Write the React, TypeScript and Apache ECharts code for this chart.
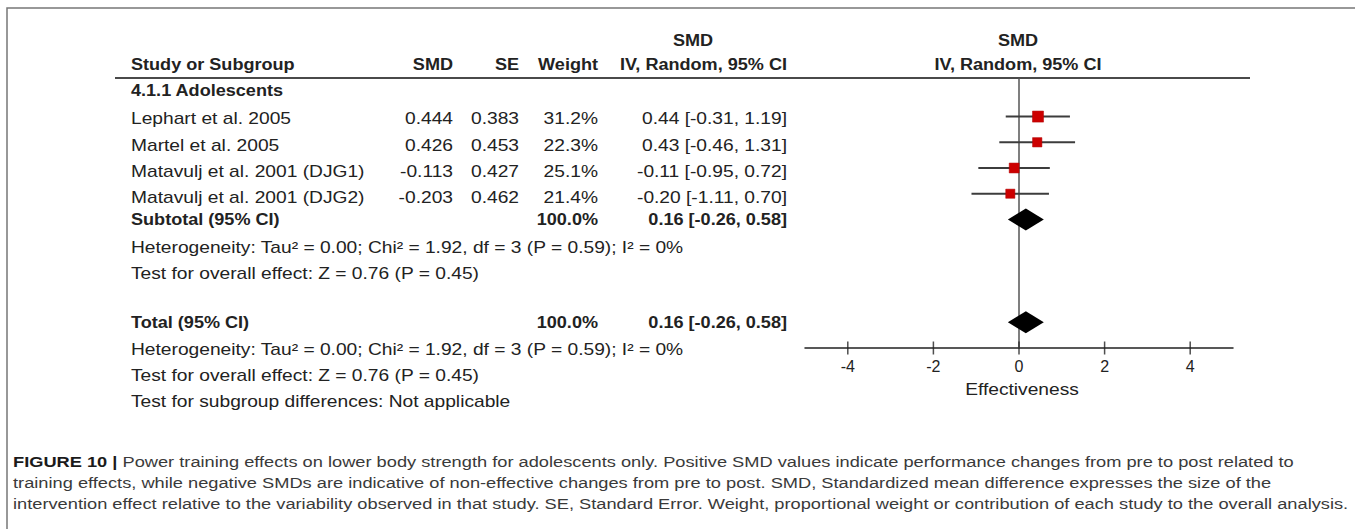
import React, { useEffect, useRef } from "react";
import * as echarts from "echarts";

// Study-level data
const studies = [
  "Lephart et al. 2005",
  "Martel et al. 2005",
  "Matavulj et al. 2001 (DJG1)",
  "Matavulj et al. 2001 (DJG2)",
];
const smd = [0.444, 0.426, -0.113, -0.203];
const se = [0.383, 0.453, 0.427, 0.462];
const weight = [31.2, 22.3, 25.1, 21.4];
const ciLow = [-0.31, -0.46, -0.95, -1.11];
const ciHigh = [1.19, 1.31, 0.72, 0.7];

// Pooled (random effects) estimate, used for both subtotal and total
const pooledEst = 0.16;
const pooledLow = -0.26;
const pooledHigh = 0.58;
const pooledWeight = 100.0;

// Row indices on the plot's vertical scale
const studyRows = [0, 1, 2, 3];
const subtotalRow = 4;
const totalRow = 8;

// Axis tick values
const xTicks = [-4, -2, 0, 2, 4];

const heterogeneityText =
  "Heterogeneity: Tau\u00b2 = 0.00; Chi\u00b2 = 1.92, df = 3 (P = 0.59); I\u00b2 = 0%";
const overallEffectText = "Test for overall effect: Z = 0.76 (P = 0.45)";
const subgroupText = "Test for subgroup differences: Not applicable";

const captionLines = [
  "{b|FIGURE 10 |} Power training effects on lower body strength for adolescents only. Positive SMD values indicate performance changes from pre to post related to",
  "training effects, while negative SMDs are indicative of non-effective changes from pre to post. SMD, Standardized mean difference expresses the size of the",
  "intervention effect relative to the variability observed in that study. SE, Standard Error. Weight, proportional weight or contribution of each study to the overall analysis.",
];

const FONT = '"Liberation Sans", Arial, Helvetica, sans-serif';
const INK = "#222";

function txt(
  text: string,
  x: number,
  y: number,
  align: "left" | "right" | "center",
  bold = false
) {
  return {
    type: "text",
    x,
    y,
    scaleX: bold ? 1.13 : 1.2,
    silent: true,
    style: {
      text,
      fill: INK,
      fontFamily: FONT,
      fontSize: 16,
      fontWeight: bold ? "bold" : "normal",
      align,
      verticalAlign: "middle",
    },
  };
}

export default function App() {
  const ref = useRef<HTMLDivElement>(null);

  useEffect(() => {
    if (!ref.current) return;
    const chart = echarts.init(ref.current, null, { renderer: "svg" });

    const fmt2 = (v: number) => v.toFixed(2);
    const ciLabel = (e: number, l: number, h: number) =>
      `${fmt2(e)} [${fmt2(l)}, ${fmt2(h)}]`;

    // Table columns (right edges)
    const colName = 131;
    const colSmd = 453;
    const colSe = 519;
    const colWeight = 598;
    const colCi = 787;
    const studyTextY = [119, 145.5, 172, 198];

    const table: any[] = [];
    // Header
    table.push(txt("SMD", 693, 41, "center", true));
    table.push(txt("SMD", 1018, 41, "center", true));
    table.push(txt("Study or Subgroup", colName, 65, "left", true));
    table.push(txt("SMD", colSmd, 65, "right", true));
    table.push(txt("SE", colSe, 65, "right", true));
    table.push(txt("Weight", colWeight, 65, "right", true));
    table.push(txt("IV, Random, 95% CI", colCi, 65, "right", true));
    table.push(txt("IV, Random, 95% CI", 1018, 65, "center", true));
    table.push(txt("4.1.1 Adolescents", colName, 91, "left", true));

    studies.forEach((s, i) => {
      const y = studyTextY[i];
      table.push(txt(s, colName, y, "left"));
      table.push(txt(smd[i].toFixed(3), colSmd, y, "right"));
      table.push(txt(se[i].toFixed(3), colSe, y, "right"));
      table.push(txt(weight[i].toFixed(1) + "%", colWeight, y, "right"));
      table.push(txt(ciLabel(smd[i], ciLow[i], ciHigh[i]), colCi, y, "right"));
    });

    table.push(txt("Subtotal (95% CI)", colName, 220, "left", true));
    table.push(txt(pooledWeight.toFixed(1) + "%", colWeight, 220, "right", true));
    table.push(txt(ciLabel(pooledEst, pooledLow, pooledHigh), colCi, 220, "right", true));
    table.push(txt(heterogeneityText, colName, 248, "left"));
    table.push(txt(overallEffectText, colName, 274, "left"));

    table.push(txt("Total (95% CI)", colName, 323, "left", true));
    table.push(txt(pooledWeight.toFixed(1) + "%", colWeight, 323, "right", true));
    table.push(txt(ciLabel(pooledEst, pooledLow, pooledHigh), colCi, 323, "right", true));
    table.push(txt(heterogeneityText, colName, 350, "left"));
    table.push(txt(overallEffectText, colName, 376, "left"));
    table.push(txt(subgroupText, colName, 402, "left"));

    table.push(txt("Effectiveness", 1022, 390, "center"));

    const captionY = [462, 483, 504];
    const caption = captionLines.map((line, i) => ({
      type: "text",
      x: 13,
      y: captionY[i],
      scaleX: 1.185,
      silent: true,
      style: {
        text: line,
        fill: "#3a3a3a",
        fontFamily: FONT,
        fontSize: 15.4,
        align: "left",
        verticalAlign: "middle",
        rich: {
          b: {
            fontWeight: "bold",
            fontFamily: FONT,
            fontSize: 15.4,
            fill: "#1a1a1a",
          },
        },
      },
    }));

    const option: any = {
      animation: false,
      backgroundColor: "#fff",
      grid: { left: 805, top: 78, width: 428, height: 270, containLabel: false },
      xAxis: {
        type: "value",
        min: -5,
        max: 5,
        axisLine: { show: true, onZero: false, lineStyle: { color: "#222", width: 1.5 } },
        axisTick: { show: false },
        splitLine: { show: false },
        axisLabel: {
          customValues: xTicks,
          margin: 10,
          color: INK,
          fontFamily: FONT,
          fontSize: 16,
        },
      },
      yAxis: {
        type: "value",
        inverse: true,
        min: -1.5,
        max: 9,
        show: false,
      },
      graphic: [
        {
          // figure frame (its right and bottom edges run off the page)
          type: "rect",
          silent: true,
          shape: { x: 7, y: 8, width: 1360, height: 600 },
          style: { fill: "none", stroke: "#777", lineWidth: 1.5 },
          z: 0,
        },
        {
          type: "line",
          silent: true,
          shape: { x1: 115, y1: 78, x2: 1250, y2: 78 },
          style: { stroke: "#4a4a4a", lineWidth: 2 },
        },
        ...table,
        ...caption,
      ],
      series: [
        {
          // axis tick marks crossing the axis line, plus the line of no effect
          type: "scatter",
          data: xTicks.map((v) => [v, 9]),
          symbol: "rect",
          symbolSize: [1.5, 13],
          itemStyle: { color: "#222" },
          clip: false,
          silent: true,
          z: 3,
          markLine: {
            silent: true,
            symbol: ["none", "none"],
            label: { show: false },
            lineStyle: { color: "#555", width: 1.5, type: "solid" },
            data: [{ xAxis: 0 }],
            z: 1,
          },
        },
        {
          type: "custom",
          z: 4,
          silent: true,
          clip: false,
          data: studies.map((_, i) => [smd[i], ciLow[i], ciHigh[i], studyRows[i], weight[i]]),
          renderItem: (params: any, api: any) => {
            const est = api.value(0);
            const lo = api.value(1);
            const hi = api.value(2);
            const row = api.value(3);
            const w = api.value(4);
            const p0 = api.coord([lo, row]);
            const p1 = api.coord([hi, row]);
            const c = api.coord([est, row]);
            const s = 1.98 * Math.sqrt(w);
            return {
              type: "group",
              children: [
                {
                  type: "line",
                  shape: { x1: p0[0], y1: p0[1], x2: p1[0], y2: p1[1] },
                  style: { stroke: "#3c3c3c", lineWidth: 2 },
                },
                {
                  type: "rect",
                  shape: { x: c[0] - s / 2, y: c[1] - s / 2, width: s, height: s },
                  style: { fill: "#cc0000", stroke: "#b00000", lineWidth: 0.5 },
                },
              ],
            };
          },
        },
        {
          type: "custom",
          z: 4,
          silent: true,
          clip: false,
          data: [
            [pooledEst, pooledLow, pooledHigh, subtotalRow],
            [pooledEst, pooledLow, pooledHigh, totalRow],
          ],
          renderItem: (params: any, api: any) => {
            const est = api.value(0);
            const lo = api.value(1);
            const hi = api.value(2);
            const row = api.value(3);
            const l = api.coord([lo, row]);
            const r = api.coord([hi, row]);
            const c = api.coord([est, row]);
            const h = 11;
            return {
              type: "polygon",
              shape: {
                points: [
                  [l[0], l[1]],
                  [c[0], c[1] - h],
                  [r[0], r[1]],
                  [c[0], c[1] + h],
                ],
              },
              style: { fill: "#000" },
            };
          },
        },
      ],
    };

    chart.setOption(option);
    return () => chart.dispose();
  }, []);

  return (
    <div
      ref={ref}
      style={{ position: "absolute", left: 0, top: 0, width: 1355, height: 529, background: "#fff" }}
    />
  );
}
